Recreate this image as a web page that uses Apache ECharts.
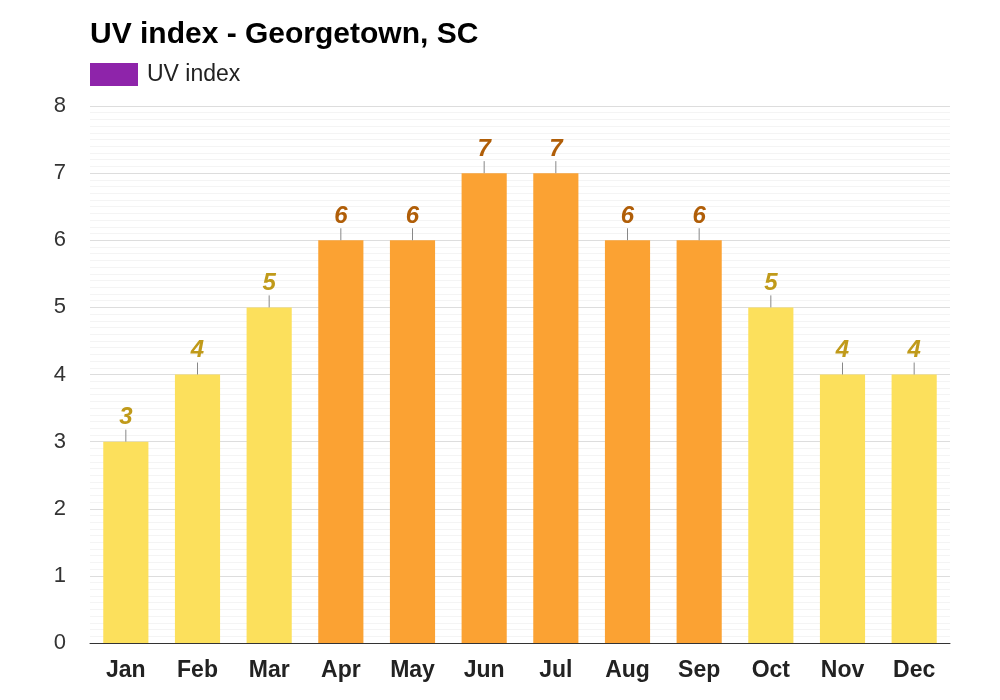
<!DOCTYPE html>
<html><head><meta charset="utf-8">
<script src="https://cdn.jsdelivr.net/npm/echarts@6/dist/echarts.min.js"></script>
<style>html,body{margin:0;padding:0;background:#fff}#c{width:1000px;height:700px}</style>
</head><body><div id="c"></div>
<script>
const months = ['Jan','Feb','Mar','Apr','May','Jun','Jul','Aug','Sep','Oct','Nov','Dec'];
const uvIndex = [3,4,5,6,6,7,7,6,6,5,4,4];
const yTicks = [0,1,2,3,4,5,6,7,8];

const YELLOW = '#FCE05C', ORANGE = '#FBA233';
const YELLOW_LBL = '#C09A1A', ORANGE_LBL = '#B05E08';
const isHigh = v => v >= 6;

const chart = echarts.init(document.getElementById('c'));
chart.setOption({
  animation: false,
  backgroundColor: '#ffffff',
  title: {
    text: 'UV index - Georgetown, SC', left: 85, top: 15,
    textStyle: {fontFamily: 'Liberation Sans, Arial', fontWeight: 'bold', fontSize: 30, color: '#000'}
  },
  legend: {
    left: 85, top: 58, itemWidth: 48, itemHeight: 23, itemGap: 10,
    icon: 'rect',
    textStyle: {fontFamily: 'Liberation Sans, Arial', fontSize: 23, color: '#222', padding: [0,0,0,4]},
    data: [{name: 'UV index', itemStyle: {color: '#8E24AA'}}]
  },
  grid: {left: 90, right: 50, top: 106, bottom: 57, containLabel: false},
  xAxis: {
    type: 'category', data: months,
    axisLine: {lineStyle: {color: '#333', width: 1}},
    axisTick: {show: false},
    axisLabel: {fontFamily: 'Liberation Sans, Arial', fontWeight: 'bold', fontSize: 23, color: '#222', margin: 16}
  },
  yAxis: {
    type: 'value', min: 0, max: 8, interval: 1,
    axisLine: {show: false}, axisTick: {show: false},
    axisLabel: {fontFamily: 'Liberation Sans, Arial', fontSize: 22, color: '#333', margin: 24,
      formatter: v => yTicks.includes(v) ? String(v) : ''},
    splitLine: {lineStyle: {color: '#dddddd', width: 1}},
    minorTick: {show: false, splitNumber: 10},
    minorSplitLine: {show: true, lineStyle: {color: '#f4f4f4', width: 1}}
  },
  series: [
    {
      name: 'UV index', type: 'bar', barWidth: '63%',
      data: uvIndex.map(v => ({value: v, itemStyle: {color: isHigh(v) ? ORANGE : YELLOW},
        label: {color: isHigh(v) ? ORANGE_LBL : YELLOW_LBL}})),
      itemStyle: {color: '#8E24AA'},
      label: {show: true, position: 'top', distance: 12,
        fontFamily: 'Liberation Sans, Arial', fontWeight: 'bold', fontStyle: 'italic', fontSize: 24},
      z: 2
    },
    {
      name: 'ticks', type: 'custom', silent: true, z: 3,
      data: uvIndex.map((v, i) => [i, v]),
      renderItem: (params, api) => {
        const p = api.coord([api.value(0), api.value(1)]);
        return {type: 'line', shape: {x1: p[0], y1: p[1], x2: p[0], y2: p[1] - 12},
          style: {stroke: '#888', lineWidth: 1}};
      }
    }
  ]
});
</script></body></html>
